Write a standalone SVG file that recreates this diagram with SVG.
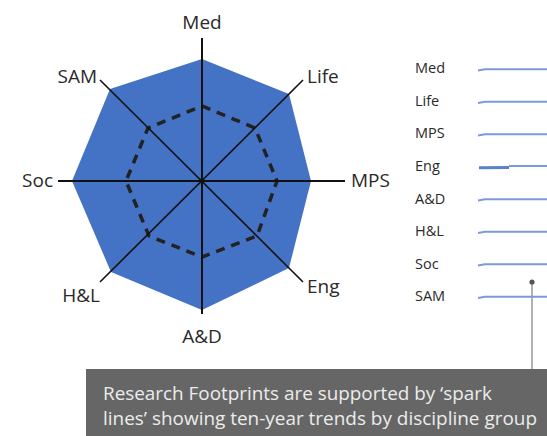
<svg xmlns="http://www.w3.org/2000/svg" width="547" height="436" viewBox="0 0 547 436">
<style>
text{font-family:"Open Sans",Lato,"Liberation Sans",sans-serif;fill:#2a2a2a}
.ax{font-size:19px}
.sl{font-size:14.5px}
.axis{stroke:#111;stroke-width:2;fill:none}
.diag{stroke:#111;stroke-width:1.6;fill:none}
.spark{stroke:#7b9bd8;stroke-width:2;fill:none}
.cap{font-size:18px;fill:#ececec}
</style>
<rect width="547" height="436" fill="#fff"/>
<g id="footprint">
<polygon points="202,59 289,94 311,181 289,268 202,310 111,272 72,181 110,89" fill="#4472c4"/>
</g>
<g id="benchmark">
<polygon points="202,106 255,128 277,181 257,236 202,257 149,236 126,181 148,128" fill="none" stroke="#222" stroke-width="3.5" stroke-dasharray="9,7"/>
</g>
<g id="connectors">
<line class="axis" x1="202" y1="38" x2="202" y2="314"/>
<line class="axis" x1="58" y1="181" x2="345" y2="181"/>
<line class="diag" x1="100" y1="80" x2="303" y2="282"/>
<line class="diag" x1="303" y1="80" x2="100" y2="282"/>
<circle cx="202" cy="181" r="2.5" fill="#111"/>
<line x1="532" y1="282" x2="532" y2="369" stroke="#999" stroke-width="1.5"/>
<circle cx="532" cy="282" r="2.6" fill="#555"/>
</g>
<g id="axis-labels">
<text class="ax" x="202" y="29" text-anchor="middle">Med</text>
<text class="ax" x="307" y="83">Life</text>
<text class="ax" x="351" y="187">MPS</text>
<text class="ax" x="53" y="187" text-anchor="end">Soc</text>
<text class="ax" x="307" y="293">Eng</text>
<text class="ax" x="202" y="343" text-anchor="middle">A&amp;D</text>
<text class="ax" x="100" y="302" text-anchor="end">H&amp;L</text>
<text class="ax" x="97" y="83" text-anchor="end">SAM</text>
</g>
<g id="sparklines">
<text class="sl" x="415" y="73">Med</text>
<path class="spark" d="M478 70.5 L485 69.3 L547 69.3"/>
<text class="sl" x="415" y="106">Life</text>
<path class="spark" d="M478 103 L485 101.8 L547 101.8"/>
<text class="sl" x="415" y="138">MPS</text>
<path class="spark" d="M478 135.5 L485 134.3 L547 134.3"/>
<text class="sl" x="415" y="171">Eng</text>
<path class="spark" d="M509 166 L547 166"/>
<path d="M479 167.8 L509 167.6" stroke="#5a82cc" stroke-width="3" fill="none"/>
<text class="sl" x="415" y="204">A&amp;D</text>
<path class="spark" d="M478 200.5 L485 199.3 L547 199.3"/>
<text class="sl" x="415" y="236">H&amp;L</text>
<path class="spark" d="M478 233 L485 231.8 L547 231.8"/>
<text class="sl" x="415" y="269">Soc</text>
<path class="spark" d="M478 265.5 L485 264.3 L547 264.3"/>
<text class="sl" x="415" y="301">SAM</text>
<path class="spark" d="M478 298 L485 296.8 L547 296.8"/>
</g>
<g id="caption">
<rect x="86" y="369" width="461" height="67" fill="#666"/>
<text class="cap" x="103" y="400" textLength="389" lengthAdjust="spacingAndGlyphs">Research Footprints are supported by ‘spark</text>
<text class="cap" x="103" y="425" textLength="434" lengthAdjust="spacingAndGlyphs">lines’ showing ten-year trends by discipline group</text>
</g>
</svg>
